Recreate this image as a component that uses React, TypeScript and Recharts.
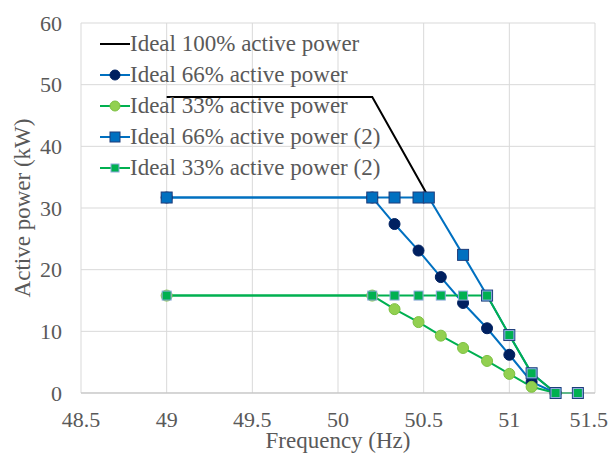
import React from 'react';
import { LineChart, Line, XAxis, YAxis, CartesianGrid, Label } from 'recharts';

// frequency (Hz) / active power (kW)
const ideal100Freq = [49, 50.2, 50.53];
const ideal100Power = [48, 48, 31.7];

const ideal66Freq = [49, 50.2, 50.33, 50.47, 50.6, 50.73, 50.87, 51.0, 51.13, 51.27];
const ideal66Power = [31.7, 31.7, 27.4, 23.1, 18.8, 14.6, 10.5, 6.2, 1.8, 0];

const ideal33Freq = [49, 50.2, 50.33, 50.47, 50.6, 50.73, 50.87, 51.0, 51.13, 51.27];
const ideal33Power = [15.8, 15.8, 13.6, 11.5, 9.3, 7.3, 5.2, 3.1, 1.0, 0];

const ideal66bFreq = [49, 50.2, 50.33, 50.47, 50.53, 50.73, 50.87, 51.0, 51.13, 51.27, 51.4];
const ideal66bPower = [31.7, 31.7, 31.7, 31.7, 31.7, 22.4, 15.8, 9.4, 3.2, 0, 0];

const ideal33bFreq = [49, 50.2, 50.33, 50.47, 50.6, 50.73, 50.87, 51.0, 51.13, 51.27, 51.4];
const ideal33bPower = [15.8, 15.8, 15.8, 15.8, 15.8, 15.8, 15.8, 9.4, 3.2, 0, 0];

const xTicks = [48.5, 49, 49.5, 50, 50.5, 51, 51.5];
const yTicks = [0, 10, 20, 30, 40, 50, 60];

const seriesNames = [
  'Ideal 100% active power',
  'Ideal 66% active power',
  'Ideal 33% active power',
  'Ideal 66% active power (2)',
  'Ideal 33% active power (2)',
];

const zip = (xs: number[], ys: number[]) => xs.map((x, i) => ({ x, y: ys[i] }));

const FONT = "'Times New Roman', 'Liberation Serif', 'DejaVu Serif', serif";
const TEXT = '#595959';
const BLUE = '#0070C0';
const GREEN = '#00B050';

const circle = (fill: string, stroke: string) => (p: any) => (
  <circle key={p.key ?? p.index} cx={p.cx} cy={p.cy} r={5.5} fill={fill} stroke={stroke} strokeWidth={1} />
);
const square = (fill: string, stroke: string, s: number) => (p: any) => (
  <rect key={p.key ?? p.index} x={p.cx - s / 2} y={p.cy - s / 2} width={s} height={s} fill={fill} stroke={stroke} strokeWidth={1} />
);

const legendRows = [
  { name: seriesNames[0], color: '#000', marker: null as null | React.ReactNode },
  { name: seriesNames[1], color: BLUE, marker: <circle cx={15} cy={8} r={5} fill="#002060" stroke="#002060" /> },
  { name: seriesNames[2], color: GREEN, marker: <circle cx={15} cy={8} r={5} fill="#92D050" stroke="#7CC040" /> },
  { name: seriesNames[3], color: BLUE, marker: <rect x={10} y={3} width={10} height={10} fill={BLUE} stroke="#1F3D7A" /> },
  { name: seriesNames[4], color: GREEN, marker: <rect x={11} y={4} width={8} height={8} fill={GREEN} stroke="#8FAADC" /> },
];

function LegendBox() {
  return (
    <div style={{ position: 'absolute', left: 92, top: 20, fontFamily: FONT, fontSize: 23, color: TEXT, lineHeight: 1 }}>
      {legendRows.map((r) => (
        <div key={r.name} style={{ display: 'flex', alignItems: 'center', height: 31, whiteSpace: 'nowrap' }}>
          <svg width={30} height={16}>
            <line x1={0} y1={8} x2={30} y2={8} stroke={r.color} strokeWidth={2} />
            {r.marker}
          </svg>
          <span>{r.name}</span>
        </div>
      ))}
    </div>
  );
}

export default function App() {
  const tickStyle = { fontFamily: FONT, fontSize: 22, fill: TEXT };
  return (
    <div style={{ position: 'relative', width: 600, height: 448 }}>
      <LineChart width={600} height={448} margin={{ top: 15, right: 13, bottom: 0, left: 0 }}>
        <CartesianGrid stroke="#D9D9D9" strokeWidth={1} />
        <XAxis
          dataKey="x"
          type="number"
          domain={[48.5, 51.5]}
          ticks={xTicks}
          tickLine={false}
          axisLine={{ stroke: '#BFBFBF' }}
          tick={tickStyle}
          tickMargin={12}
          height={63}
          allowDataOverflow
        >
          <Label
            content={({ viewBox }: any) => (
              <text x={viewBox.x + viewBox.width / 2} y={viewBox.y + 55} textAnchor="middle" fontFamily={FONT} fontSize={23} fill={TEXT}>
                Frequency (Hz)
              </text>
            )}
          />
        </XAxis>
        <YAxis
          type="number"
          domain={[0, 60]}
          ticks={yTicks}
          tickLine={false}
          axisLine={false}
          tick={tickStyle}
          tickMargin={13}
          width={73}
        >
          <Label
            content={({ viewBox }: any) => {
              const cx = 14.5;
              const cy = viewBox.y + viewBox.height / 2;
              return (
                <text x={cx} y={cy} transform={`rotate(-90 ${cx} ${cy})`} textAnchor="middle" dominantBaseline="central" fontFamily={FONT} fontSize={23} fill={TEXT}>
                  Active power (kW)
                </text>
              );
            }}
          />
        </YAxis>
        <Line data={zip(ideal100Freq, ideal100Power)} dataKey="y" name={seriesNames[0]} stroke="#000" strokeWidth={2} dot={false} isAnimationActive={false} />
        <Line data={zip(ideal66Freq, ideal66Power)} dataKey="y" name={seriesNames[1]} stroke={BLUE} strokeWidth={2} dot={circle('#002060', '#002060')} isAnimationActive={false} />
        <Line data={zip(ideal33Freq, ideal33Power)} dataKey="y" name={seriesNames[2]} stroke={GREEN} strokeWidth={2} dot={circle('#92D050', '#7CC040')} isAnimationActive={false} />
        <Line data={zip(ideal66bFreq, ideal66bPower)} dataKey="y" name={seriesNames[3]} stroke={BLUE} strokeWidth={2} dot={square(BLUE, '#1F3D7A', 11)} isAnimationActive={false} />
        <Line data={zip(ideal33bFreq, ideal33bPower)} dataKey="y" name={seriesNames[4]} stroke={GREEN} strokeWidth={2} dot={square(GREEN, '#8FAADC', 9)} isAnimationActive={false} />
      </LineChart>
      <LegendBox />
    </div>
  );
}
